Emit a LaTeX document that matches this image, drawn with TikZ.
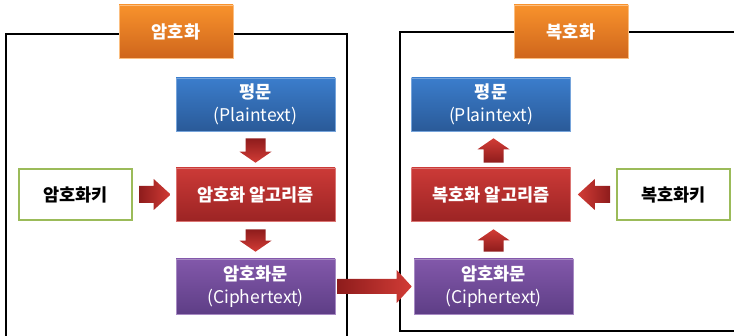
\documentclass[tikz,border=0pt]{standalone}
\usepackage{fontspec}
\newfontfamily\kr{Noto Sans CJK KR}
\usetikzlibrary{calc}

\definecolor{orgTop}{HTML}{F8922C}
\definecolor{orgBot}{HTML}{CF661C}
\definecolor{bluTop}{HTML}{3B7DCC}
\definecolor{bluBot}{HTML}{2A5A98}
\definecolor{redTop}{HTML}{CC3A37}
\definecolor{redBot}{HTML}{9C2424}
\definecolor{purTop}{HTML}{8258AA}
\definecolor{purBot}{HTML}{5E3E86}
\definecolor{keyGreen}{HTML}{9BBB59}
\definecolor{arrDark}{HTML}{8E1C1C}
\definecolor{arrLight}{HTML}{D23C36}

% block arrow: #1 shading, #2 start, #3 end, #4 shaft half width, #5 head half width, #6 head length
\newcommand\blkarrow[6]{%
  \coordinate (ba-s) at (#2);
  \coordinate (ba-e) at (#3);
  \coordinate (ba-h) at ($(ba-e)!#6!(ba-s)$);
  \shade[#1] ($(ba-s)!#4!90:(ba-e)$) -- ($(ba-h)!#4!90:(ba-e)$)
    -- ($(ba-h)!#5!90:(ba-e)$) -- (ba-e) -- ($(ba-h)!#5!-90:(ba-e)$)
    -- ($(ba-h)!#4!-90:(ba-e)$) -- ($(ba-s)!#4!-90:(ba-e)$) -- cycle;
}

\tikzset{
  box/.style={minimum width=159pt, minimum height=53pt, inner sep=0pt,
    align=center, text=white, font=\kr\fontsize{17.5}{22.5}\selectfont, line width=0.6pt},
  title/.style={box, minimum width=114pt, top color=orgTop, bottom color=orgBot,
    draw=orgTop!60!white},
  plainbox/.style={box, top color=bluTop, bottom color=bluBot, draw=bluTop!70!white},
  algbox/.style={box, top color=redTop, bottom color=redBot, draw=redTop!70!white},
  cipherbox/.style={box, minimum height=55pt, top color=purTop, bottom color=purBot,
    draw=purTop!70!white},
  keybox/.style={box, minimum width=113pt, minimum height=51pt, fill=white,
    draw=keyGreen, line width=2pt, text=black},
  frame/.style={draw=black, line width=2pt},
  down/.style={top color=arrDark, bottom color=arrLight},
  up/.style={top color=arrLight, bottom color=arrDark},
  right/.style={left color=arrDark, right color=arrLight},
  left/.style={left color=arrLight, right color=arrDark},
}

\begin{document}
\begin{tikzpicture}[x=1pt, y=-1pt]
\useasboundingbox (0,0) rectangle (734,336);

% outer frames of the two stages
\draw[frame] (6,342) -- (6,34) -- (347,34) -- (347,342);
\draw[frame] (740,331) -- (400,331) -- (400,32) -- (740,32);

% encryption side
\node[title] (t1) at (176,31.5) {\bfseries 암호화};
\node[plainbox] (p1) at (255.5,104.5) {\bfseries 평문\\(Plaintext)};
\node[algbox] (a1) at (255.5,194.5) {\bfseries 암호화 알고리즘};
\node[cipherbox] (c1) at (255.5,286.5) {\bfseries 암호화문\\(Ciphertext)};
\node[keybox] (k1) at (75.5,194.5) {\bfseries 암호화키};

% decryption side
\node[title] (t2) at (571,31.5) {\bfseries 복호화};
\node[plainbox] (p2) at (491,104.5) {\bfseries 평문\\(Plaintext)};
\node[algbox] (a2) at (491,194.5) {\bfseries 복호화 알고리즘};
\node[cipherbox] (c2) at (493.5,286.5) {\bfseries 암호화문\\(Ciphertext)};
\node[keybox] (k2) at (673.5,194.5) {\bfseries 복호화키};

% flow arrows
\blkarrow{down}{$(p1.south)+(0,7)$}{$(a1.north)+(0,-5)$}{10pt}{16pt}{11pt}
\blkarrow{down}{$(a1.south)+(0,8)$}{$(c1.north)+(0,-7)$}{10pt}{16pt}{11pt}
\blkarrow{right}{$(k1.east)+(6,0)$}{$(a1.west)+(-5,0)$}{8.5pt}{15.5pt}{17pt}
\blkarrow{right}{$(c1.east)+(2,0)$}{$(c2.west)+(-2,0)$}{7.5pt}{16.5pt}{15pt}
\blkarrow{up}{$(c2.north)+(0,-7)$}{$(c2.north |- a2.south)+(0,8)$}{10pt}{16pt}{11pt}
\blkarrow{up}{$(c2.north |- a2.north)+(0,-5)$}{$(c2.north |- p2.south)+(0,7)$}{10pt}{16pt}{11pt}
\blkarrow{left}{$(k2.west)+(-6,0)$}{$(a2.east)+(7,0)$}{8.5pt}{15.5pt}{17pt}
\end{tikzpicture}
\end{document}
